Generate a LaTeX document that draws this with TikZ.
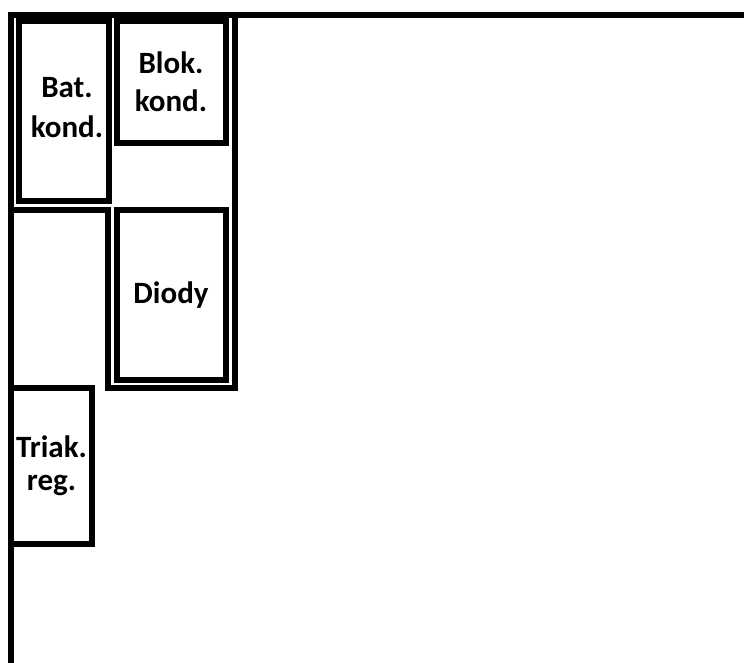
\documentclass[tikz,border=0pt]{standalone}
\usepackage{fontspec}
\setmainfont{Carlito}
\begin{document}
\begin{tikzpicture}[x=1pt,y=-1pt,
  wall/.style={line width=6pt,line join=miter,line cap=rect},
  unit/.style={draw,line width=6pt,inner sep=0pt,outer sep=0pt,align=center,
    font=\fontsize{31}{38}\selectfont\bfseries},
  lbl/.style={inner sep=0pt,align=center,font=\fontsize{31}{40}\selectfont\bfseries}]
\useasboundingbox (0,0) rectangle (744,663);
\clip (0,0) rectangle (744,663);
% outer frame
\coordinate (fb) at (11,670);
\coordinate (fc) at (11,15);
\coordinate (fr) at (750,15);
\draw[wall] (fb) -- (fc) -- (fr);
% inner partition
\coordinate (p1) at (11,210.5);
\coordinate (p2) at (108,210.5);
\coordinate (p3) at (108,388);
\coordinate (p4) at (234.5,388);
\coordinate (p5) at (234.5,15);
\draw[wall] (p1) -- (p2) -- (p3) -- (p4) -- (p5);
% boxes
\node[unit,minimum width=90pt,minimum height=180pt] (bat) at (63.5,111) {};
\node[lbl] (battxt) at (67,108) {Bat.\\kond.};
\node[unit,minimum width=109pt,minimum height=122pt] (blok) at (171,82) {Blok.\\kond.};
\node[unit,minimum width=109pt,minimum height=170pt] (diody) at (171,295) {Diody};
\node[unit,minimum width=81pt,minimum height=156pt] (triak) at (51.5,466) {};
\node[lbl,font=\fontsize{31}{33}\selectfont\bfseries] (triaktxt) at (51.5,466) {Triak.\\reg.};
\end{tikzpicture}
\end{document}
